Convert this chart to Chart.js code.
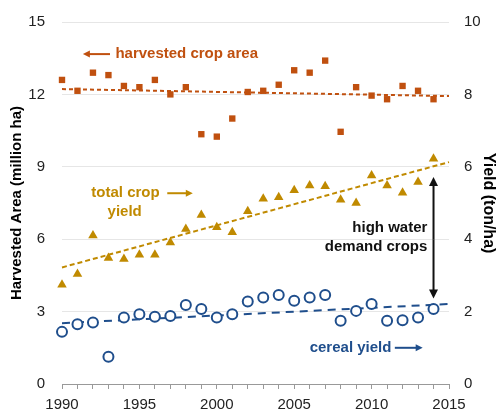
<!DOCTYPE html>
<html>
<head>
<meta charset="utf-8">
<script src="https://cdn.jsdelivr.net/npm/chart.js@4.4.1/dist/chart.umd.min.js"></script>
<style>
    html, body { margin: 0; padding: 0; background: #ffffff; }
    #wrap { width: 498px; height: 415px; }
</style>
</head>
<body>
<div id="wrap"><canvas id="grafico"></canvas></div>
<script>

// Dados
const anos = [1990, 1991, 1992, 1993, 1994, 1995, 1996, 1997, 1998, 1999,
    2000, 2001, 2002, 2003, 2004, 2005, 2006, 2007, 2008, 2009,
    2010, 2011, 2012, 2013, 2014];

const areaColhida = [12.6, 12.15, 12.9, 12.8, 12.35, 12.3, 12.6, 12.0, 12.3, 10.35,
    10.25, 11.0, 12.1, 12.15, 12.4, 13.0, 12.9, 13.4, 10.45, 12.3,
    11.95, 11.8, 12.35, 12.15, 11.8];

const produtividadeTotal = [2.74, 3.04, 4.1, 3.48, 3.45, 3.57, 3.57, 3.91, 4.28, 4.67,
    4.33, 4.19, 4.77, 5.12, 5.16, 5.35, 5.48, 5.46, 5.09, 5.0,
    5.76, 5.48, 5.28, 5.58, 6.22];

const produtividadeCereal = [1.44, 1.65, 1.7, 0.75, 1.84, 1.93, 1.86, 1.88, 2.18, 2.07,
    1.84, 1.93, 2.28, 2.39, 2.46, 2.3, 2.39, 2.46, 1.75, 2.02,
    2.21, 1.75, 1.76, 1.84, 2.07];

// Linhas de tendência (início e fim)
const anosTendencia = [1990, 2015];
const tendenciaArea = [12.22, 11.93];
const tendenciaTotal = [3.22, 6.13];
const tendenciaCereal = [1.68, 2.21];

const ticksEsquerda = [0, 3, 6, 9, 12, 15];
const ticksDireita = [0, 2, 4, 6, 8, 10];

const corArea = "#c0500f";
const corTotal = "#c08a00";
const corCereal = "#1f4e8c";

const fonte = "'Liberation Sans', Arial, sans-serif";

function pontos(xs, ys) {
    return xs.map((x, i) => ({ x: x, y: ys[i] }));
}

// ==========================
// Textos e seta de anotação
// ==========================

function seta(ctx, x1, y1, x2, y2, cor, cabeca) {
    ctx.save();
    ctx.strokeStyle = cor;
    ctx.fillStyle = cor;
    ctx.lineWidth = 2;
    const ang = Math.atan2(y2 - y1, x2 - x1);
    ctx.beginPath();
    ctx.moveTo(x1, y1);
    ctx.lineTo(x2 - Math.cos(ang) * cabeca * 0.6, y2 - Math.sin(ang) * cabeca * 0.6);
    ctx.stroke();
    ctx.beginPath();
    ctx.moveTo(x2, y2);
    ctx.lineTo(x2 - Math.cos(ang) * cabeca - Math.sin(ang) * cabeca * 0.5,
        y2 - Math.sin(ang) * cabeca + Math.cos(ang) * cabeca * 0.5);
    ctx.lineTo(x2 - Math.cos(ang) * cabeca + Math.sin(ang) * cabeca * 0.5,
        y2 - Math.sin(ang) * cabeca - Math.cos(ang) * cabeca * 0.5);
    ctx.closePath();
    ctx.fill();
    ctx.restore();
}

const anotacoes = {
    id: "anotacoes",
    afterDatasetsDraw(chart) {
        const ctx = chart.ctx;
        const x = chart.scales.x;
        const yA = chart.scales.yArea;
        const yP = chart.scales.yProd;

        ctx.save();
        ctx.textBaseline = "middle";
        ctx.font = "bold 15px " + fonte;

        // harvested crop area
        ctx.fillStyle = corArea;
        ctx.textAlign = "left";
        const ya = yA.getPixelForValue(13.67);
        seta(ctx, x.getPixelForValue(1993.1), ya, x.getPixelForValue(1991.35), ya, corArea, 7);
        ctx.fillText("harvested crop area", x.getPixelForValue(1993.45), ya);

        // total crop yield
        ctx.fillStyle = corTotal;
        ctx.textAlign = "center";
        const yt1 = yP.getPixelForValue(5.27);
        const yt2 = yP.getPixelForValue(4.76);
        ctx.fillText("total crop", x.getPixelForValue(1994.1), yt1);
        ctx.fillText("yield", x.getPixelForValue(1994.05), yt2);
        seta(ctx, x.getPixelForValue(1996.8), yt1, x.getPixelForValue(1998.45), yt1, corTotal, 7);

        // cereal yield
        ctx.fillStyle = corCereal;
        ctx.textAlign = "left";
        const yc = yP.getPixelForValue(1.0);
        ctx.fillText("cereal yield", x.getPixelForValue(2006.0), yc);
        seta(ctx, x.getPixelForValue(2011.5), yc, x.getPixelForValue(2013.3), yc, corCereal, 7);

        // high water demand crops
        ctx.fillStyle = "#111111";
        ctx.textAlign = "right";
        ctx.fillText("high water", x.getPixelForValue(2013.6), yP.getPixelForValue(4.3));
        ctx.fillText("demand crops", x.getPixelForValue(2013.6), yP.getPixelForValue(3.8));

        const xs = x.getPixelForValue(2014);
        seta(ctx, xs, yP.getPixelForValue(4.0), xs, yP.getPixelForValue(5.72), "#111111", 9);
        seta(ctx, xs, yP.getPixelForValue(4.0), xs, yP.getPixelForValue(2.36), "#111111", 9);

        ctx.restore();
    }
};

// ==========================
// Gráfico
// ==========================

const ctxGrafico = document.getElementById("grafico").getContext("2d");

new Chart(ctxGrafico, {

    type: "scatter",

    data: {

        datasets: [
            {
                label: "harvested crop area",
                data: pontos(anos, areaColhida),
                yAxisID: "yArea",
                pointStyle: "rect",
                pointRadius: 4.5,
                backgroundColor: corArea,
                borderColor: corArea,
                borderWidth: 0
            },
            {
                label: "tendência área",
                data: pontos(anosTendencia, tendenciaArea),
                yAxisID: "yArea",
                showLine: true,
                pointRadius: 0,
                borderColor: corArea,
                borderWidth: 2,
                borderDash: [4, 3]
            },
            {
                label: "total crop yield",
                data: pontos(anos, produtividadeTotal),
                yAxisID: "yProd",
                pointStyle: "triangle",
                pointRadius: 5.5,
                backgroundColor: corTotal,
                borderColor: corTotal,
                borderWidth: 0
            },
            {
                label: "tendência total",
                data: pontos(anosTendencia, tendenciaTotal),
                yAxisID: "yProd",
                showLine: true,
                pointRadius: 0,
                borderColor: corTotal,
                borderWidth: 2,
                borderDash: [5, 3]
            },
            {
                label: "cereal yield",
                data: pontos(anos, produtividadeCereal),
                yAxisID: "yProd",
                pointStyle: "circle",
                pointRadius: 5,
                backgroundColor: "#ffffff",
                borderColor: corCereal,
                borderWidth: 2
            },
            {
                label: "tendência cereal",
                data: pontos(anosTendencia, tendenciaCereal),
                yAxisID: "yProd",
                showLine: true,
                pointRadius: 0,
                borderColor: corCereal,
                borderWidth: 2,
                borderDash: [8, 6]
            }
        ]

    },

    options: {

        responsive: true,
        maintainAspectRatio: false,
        animation: false,
        clip: false,

        layout: {
            padding: { top: 22, right: 0, left: 8, bottom: 0 }
        },

        plugins: {
            legend: { display: false },
            tooltip: { enabled: false }
        },

        scales: {

            x: {
                type: "linear",
                min: 1990,
                max: 2015,
                afterFit: s => { s.height = 31; },
                grid: {
                    drawOnChartArea: false,
                    drawTicks: true,
                    tickLength: 5,
                    color: "#999999"
                },
                border: { color: "#999999" },
                ticks: {
                    stepSize: 1,
                    autoSkip: false,
                    maxRotation: 0,
                    color: "#222222",
                    font: { family: fonte, size: 15 },
                    padding: 7,
                    callback: v => (v % 5 === 0 ? String(v) : "")
                }
            },

            yArea: {
                position: "left",
                min: 0,
                max: 15,
                afterFit: s => { s.width = 54; s.paddingTop = 0; s.paddingBottom = 0; },
                afterBuildTicks: s => { s.ticks = ticksEsquerda.map(v => ({ value: v })); },
                grid: {
                    color: "#e6e6e6",
                    drawTicks: false
                },
                border: { display: false },
                ticks: {
                    color: "#222222",
                    font: { family: fonte, size: 15 },
                    padding: 17
                },
                title: {
                    display: true,
                    text: "Harvested Area (million ha)",
                    color: "#000000",
                    font: { family: fonte, size: 15, weight: "bold" },
                    padding: 0
                }
            },

            yProd: {
                position: "right",
                min: 0,
                max: 10,
                afterFit: s => { s.width = 49; s.paddingTop = 0; s.paddingBottom = 0; },
                afterBuildTicks: s => { s.ticks = ticksDireita.map(v => ({ value: v })); },
                grid: {
                    drawOnChartArea: false,
                    drawTicks: false
                },
                border: { display: false },
                ticks: {
                    color: "#222222",
                    font: { family: fonte, size: 15 },
                    padding: 15
                },
                title: {
                    display: true,
                    text: "Yield (ton/ha)",
                    color: "#000000",
                    font: { family: fonte, size: 16, weight: "bold" },
                    padding: 0
                }
            }

        }

    },

    plugins: [anotacoes]

});

</script>
</body>
</html>
